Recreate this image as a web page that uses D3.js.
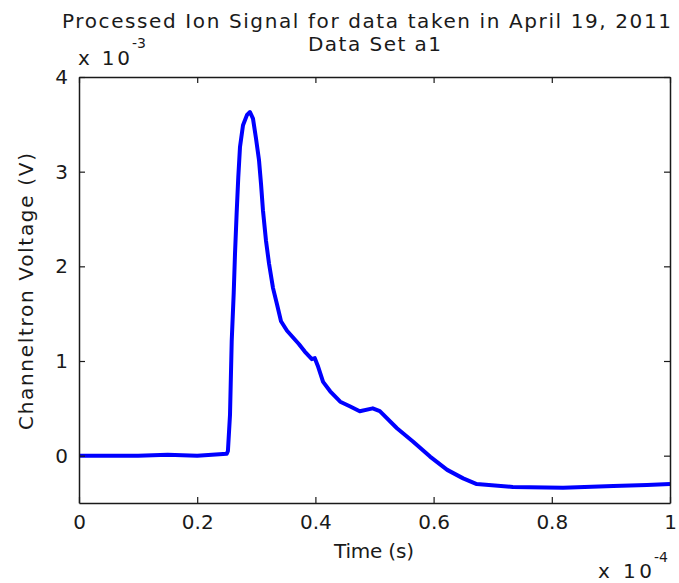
<!DOCTYPE html>
<html>
<head>
<meta charset="utf-8">
<script src="https://cdn.jsdelivr.net/npm/d3@7/dist/d3.min.js"></script>
<style>
  body { margin: 0; background: #fff; }
  text { font-family: "DejaVu Sans", "Liberation Sans", sans-serif; fill: #1a1a1a; }
</style>
</head>
<body>
<svg id="chart" width="679" height="583"></svg>
<script>
// time in units of 1e-4 s, voltage in units of 1e-3 V
const timeE4 = [0, 0.05, 0.10, 0.15, 0.20, 0.250, 0.252, 0.2555, 0.2584, 0.2618, 0.264, 0.2668,
  0.2695, 0.2724, 0.2775, 0.2843, 0.2893, 0.2944, 0.2995, 0.3046, 0.308, 0.3113, 0.3164, 0.3215,
  0.3283, 0.335, 0.3418, 0.352, 0.372, 0.382, 0.394, 0.399, 0.404, 0.413, 0.425, 0.442, 0.459,
  0.475, 0.497, 0.509, 0.538, 0.565, 0.594, 0.623, 0.650, 0.673, 0.734, 0.819, 0.904, 0.961, 1.0];
const voltE3 = [0.0, 0.0, 0.0, 0.01, 0.0, 0.02, 0.05, 0.43, 1.21, 1.72, 2.14, 2.57,
  2.94, 3.26, 3.49, 3.60, 3.63, 3.56, 3.35, 3.12, 2.87, 2.59, 2.27, 2.03,
  1.77, 1.60, 1.42, 1.32, 1.18, 1.10, 1.02, 1.03, 0.95, 0.78, 0.68, 0.57, 0.52,
  0.47, 0.50, 0.47, 0.29, 0.15, -0.01, -0.15, -0.24, -0.30, -0.33, -0.34, -0.32, -0.31, -0.30];

const xTicks = [0, 0.2, 0.4, 0.6, 0.8, 1];
const yTicks = [0, 1, 2, 3, 4];
const titleLines = ['Processed Ion Signal for data taken in April 19, 2011', 'Data Set a1'];

const plot = { left: 79, right: 670, top: 77, bottom: 503 };
const svg = d3.select('#chart');

const x = d3.scaleLinear().domain([0, 1]).range([plot.left, plot.right]);
const y = d3.scaleLinear().domain([-0.5, 4]).range([plot.bottom, plot.top]);

const points = timeE4.map((t, i) => ({ t, v: voltE3[i] }));

// data line
const line = d3.line().x(d => x(d.t)).y(d => y(d.v));
svg.append('path')
  .datum(points)
  .attr('fill', 'none')
  .attr('stroke', '#0000ff')
  .attr('stroke-width', 4)
  .attr('stroke-linejoin', 'round')
  .attr('d', line);

// axes, matlab style box with inward ticks
const fmt = d => String(d);
const styleAxis = g => {
  g.select('.domain').attr('stroke', '#1a1a1a').attr('stroke-width', 1.5);
  g.selectAll('.tick line').attr('stroke', '#1a1a1a').attr('stroke-width', 1.2);
  g.selectAll('.tick text').style('font-size', '20px').attr('fill', '#1a1a1a');
};

svg.append('g')
  .attr('transform', `translate(0,${plot.bottom})`)
  .call(d3.axisBottom(x).tickValues(xTicks).tickFormat(fmt).tickSize(-6).tickSizeOuter(0).tickPadding(12))
  .call(styleAxis);

svg.append('g')
  .attr('transform', `translate(0,${plot.top})`)
  .call(d3.axisTop(x).tickValues(xTicks).tickFormat('').tickSize(-6).tickSizeOuter(0))
  .call(styleAxis);

svg.append('g')
  .attr('transform', `translate(${plot.left},0)`)
  .call(d3.axisLeft(y).tickValues(yTicks).tickFormat(fmt).tickSize(-6).tickSizeOuter(0).tickPadding(11))
  .call(styleAxis);

svg.append('g')
  .attr('transform', `translate(${plot.right},0)`)
  .call(d3.axisRight(y).tickValues(yTicks).tickFormat('').tickSize(-6).tickSizeOuter(0))
  .call(styleAxis);

// titles
svg.append('text')
  .attr('x', 62).attr('y', 28)
  .attr('textLength', 609).attr('lengthAdjust', 'spacing')
  .style('font-size', '20px')
  .text(titleLines[0]);
svg.append('text')
  .attr('x', 308).attr('y', 51)
  .attr('textLength', 133).attr('lengthAdjust', 'spacing')
  .style('font-size', '20px')
  .text(titleLines[1]);

// axis labels
svg.append('text')
  .attr('x', 334).attr('y', 558)
  .attr('textLength', 80).attr('lengthAdjust', 'spacing')
  .style('font-size', '20px')
  .text('Time (s)');

svg.append('text')
  .attr('transform', 'translate(33,430) rotate(-90)')
  .attr('textLength', 277).attr('lengthAdjust', 'spacing')
  .style('font-size', '20px')
  .text('Channeltron Voltage (V)');

// exponent labels
svg.append('text').attr('x', 78).attr('y', 65)
  .attr('textLength', 52).attr('lengthAdjust', 'spacing')
  .style('font-size', '20px').text('x 10');
svg.append('text').attr('x', 132).attr('y', 48).style('font-size', '14px').text('-3');

svg.append('text').attr('x', 598).attr('y', 578)
  .attr('textLength', 54).attr('lengthAdjust', 'spacing')
  .style('font-size', '20px').text('x 10');
svg.append('text').attr('x', 654).attr('y', 562).style('font-size', '14px').text('-4');
</script>
</body>
</html>
